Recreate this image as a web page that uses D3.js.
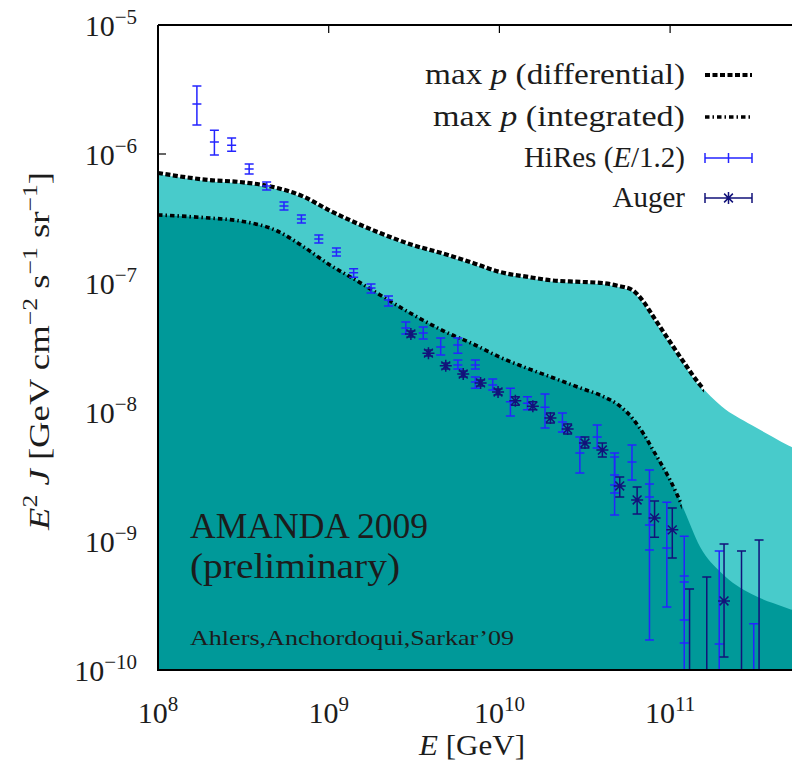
<!DOCTYPE html>
<html>
<head>
<meta charset="utf-8">
<script src="https://cdn.jsdelivr.net/npm/d3@7/dist/d3.min.js"></script>
<style>
  body { margin: 0; background: #fff; }
  svg { display: block; }
</style>
</head>
<body>
<script>
// axis ticks
const xTicks = [1e8, 1e9, 1e10, 1e11];
const xTickExp = ["8", "9", "10", "11"];
const yTicks = [1e-5, 1e-6, 1e-7, 1e-8, 1e-9, 1e-10];
const yTickExp = ["\u22125", "\u22126", "\u22127", "\u22128", "\u22129", "\u221210"];

// max p bounds (GeV, GeV cm^-2 s^-1 sr^-1)
const modelE = [1e8, 2e8, 3e8, 5e8, 7e8, 1e9, 1.5e9, 2e9, 3e9, 5e9, 7e9, 1e10, 1.5e10, 2e10,
  3e10, 4e10, 5e10, 6e10, 7e10, 8e10, 1e11, 1.2e11, 1.5e11, 2e11, 3e11, 4e11, 5e11, 6e11];
const maxpDiff = [7.13e-7, 6.28e-7, 6.07e-7, 5.45e-7, 4.72e-7, 3.68e-7, 2.86e-7, 2.44e-7, 2.00e-7,
  1.65e-7, 1.43e-7, 1.22e-7, 1.11e-7, 1.05e-7, 1.02e-7, 1.00e-7, 9.48e-8, 8.83e-8, 7.13e-8,
  5.45e-8, 3.49e-8, 2.44e-8, 1.62e-8, 1.11e-8, 7.93e-9, 6.40e-9, 5.45e-9, 4.90e-9];
const maxpInt = [3.37e-7, 3.19e-7, 3.03e-7, 2.53e-7, 1.94e-7, 1.40e-7, 1.02e-7, 8.07e-8, 5.85e-8,
  4.09e-8, 3.37e-8, 2.67e-8, 2.15e-8, 1.87e-8, 1.53e-8, 1.33e-8, 1.13e-8, 8.98e-9, 6.75e-9,
  4.99e-9, 2.97e-9, 1.77e-9, 8.98e-10, 5.65e-10, 3.88e-10, 3.30e-10, 2.97e-10, 2.77e-10];
const diffLineEnd = 1.58e11;
const intLineEnd = 1.17e11;

// HiRes (E/1.2)
const hiresE = [1.69e8, 2.14e8, 2.70e8, 3.42e8, 4.33e8, 5.47e8, 6.92e8, 8.75e8, 1.11e9, 1.40e9,
  1.77e9, 2.24e9, 2.83e9, 3.58e9, 4.53e9, 5.71e9, 5.71e9, 7.23e9, 7.23e9, 9.14e9, 1.16e10,
  1.46e10, 1.85e10, 2.34e10, 2.96e10, 3.74e10, 4.73e10, 4.73e10, 5.98e10, 7.57e10, 7.57e10,
  9.57e10, 1.21e11, 1.21e11, 1.94e11, 3.09e11];
const hiresJ = [2.44e-6, 1.24e-6, 1.17e-6, 7.65e-7, 5.65e-7, 3.95e-7, 3.13e-7, 2.19e-7, 1.74e-7, 1.20e-7,
  9.14e-8, 7.38e-8, 4.48e-8, 4.09e-8, 3.19e-8, 3.30e-8, 2.31e-8, 2.31e-8, 1.71e-8, 1.62e-8, 1.20e-8,
  1.17e-8, 1.09e-8, 8.35e-9, 4.81e-9, 6.40e-9, 3.25e-9, 2.72e-9, 4.09e-9, 2.19e-9, 8.51e-10,
  8.83e-10, 5.36e-10, 1.62e-10, 1.59e-10, 5e-11];
const hiresHi = [3.37e-6, 1.53e-6, 1.33e-6, 8.35e-7, 6.07e-7, 4.25e-7, 3.37e-7, 2.36e-7, 1.87e-7, 1.29e-7,
  9.82e-8, 7.93e-8, 4.99e-8, 4.56e-8, 3.75e-8, 3.75e-8, 2.53e-8, 2.53e-8, 1.87e-8, 1.80e-8, 1.53e-8,
  1.31e-8, 1.38e-8, 9.82e-9, 6.40e-9, 7.93e-9, 4.81e-9, 4.48e-9, 5.55e-9, 3.55e-9, 2.77e-9,
  2.00e-9, 1.09e-9, 4.81e-10, 8.35e-10, 2.28e-10];
const hiresLo = [1.68e-6, 9.82e-7, 1.05e-6, 7.00e-7, 5.26e-7, 3.68e-7, 2.92e-7, 2.04e-7, 1.62e-7, 1.11e-7,
  8.36e-8, 6.64e-8, 4.03e-8, 3.68e-8, 2.77e-8, 2.86e-8, 2.15e-8, 2.15e-8, 1.53e-8, 1.48e-8, 9.31e-9,
  1.04e-8, 7.52e-9, 7.00e-9, 3.37e-9, 5.26e-9, 2.36e-9, 1.59e-9, 2.97e-9, 1.33e-9, 1.71e-10,
  3.08e-10, 2.44e-10, 1e-12, 1e-12, 1e-12];

// Auger
const augerE = [3.03e9, 3.84e9, 4.85e9, 6.14e9, 7.76e9, 9.82e9, 1.24e10, 1.57e10, 1.99e10, 2.51e10,
  3.17e10, 4.01e10, 5.07e10, 6.41e10, 8.11e10, 1.03e11, 1.30e11, 1.64e11, 2.07e11, 2.62e11, 3.32e11];
const augerJ = [4.03e-8, 2.86e-8, 2.28e-8, 1.97e-8, 1.68e-8, 1.43e-8, 1.22e-8, 1.11e-8, 8.98e-9, 7.38e-9,
  5.75e-9, 5.07e-9, 2.67e-9, 2.08e-9, 1.51e-9, 1.22e-9, 3e-11, 3e-11, 3.43e-10, 3e-11, 3e-11];
const augerHi = [4.25e-8, 3.03e-8, 2.40e-8, 2.08e-8, 1.77e-8, 1.51e-8, 1.31e-8, 1.20e-8, 9.82e-9, 8.07e-9,
  6.40e-9, 5.75e-9, 3.13e-9, 2.62e-9, 2.04e-9, 1.80e-9, 4.25e-10, 5.26e-10, 9.48e-10, 8.35e-10, 1.02e-9];
const augerLo = [3.81e-8, 2.72e-8, 2.15e-8, 1.87e-8, 1.59e-8, 1.36e-8, 1.13e-8, 1.04e-8, 8.22e-9, 6.75e-9,
  5.26e-9, 4.48e-9, 2.19e-9, 1.62e-9, 1.07e-9, 7.38e-10, 1e-12, 1e-12, 1.26e-10, 1e-12, 1e-12];

const width = 792, height = 768;
const padLeft = 158, padTop = 25, padBottom = 670;

const x = d3.scaleLog().domain([1e8, 1e12]).range([padLeft, padLeft + 4 * 170.7]);
const y = d3.scaleLog().domain([1e-10, 1e-5]).range([padBottom, padTop]);

const light = "#48cbcb", dark = "#009999";
const blue = "#2424ff", navy = "#12127a";
const ink = "#1c1c1c";
const serif = "'Liberation Serif', 'DejaVu Serif', serif";

const svg = d3.select("body").append("svg")
  .attr("width", width)
  .attr("height", height)
  .attr("font-family", serif);

const defs = svg.append("defs");
defs.append("clipPath").attr("id", "plot")
  .append("rect").attr("x", padLeft).attr("y", padTop).attr("width", width - padLeft).attr("height", padBottom - padTop);
defs.append("clipPath").attr("id", "diffEnd")
  .append("rect").attr("x", padLeft).attr("y", padTop).attr("width", x(diffLineEnd) - padLeft).attr("height", padBottom - padTop);
defs.append("clipPath").attr("id", "intEnd")
  .append("rect").attr("x", padLeft).attr("y", padTop).attr("width", x(intLineEnd) - padLeft).attr("height", padBottom - padTop);

// text with superscripts / italics
function rich(sel, parts, size) {
  let shift = 0;
  parts.forEach(p => {
    const target = p.sup ? -0.4 * size : 0;
    const ts = sel.append("tspan").text(p.t);
    if (target !== shift) ts.attr("dy", target - shift);
    shift = target;
    if (p.sup) ts.attr("font-size", size * 0.7);
    if (p.it) ts.attr("font-style", "italic");
  });
  return sel;
}

// ticks (drawn under the filled bands, like the original)
const tickG = svg.append("g").attr("stroke", "#000").attr("stroke-width", 1.2);
tickG.selectAll(".xt").data(xTicks).join("path")
  .attr("d", d => `M${x(d)},${padTop}v8M${x(d)},${padBottom}v-8`);
tickG.selectAll(".yt").data(yTicks).join("path")
  .attr("d", d => `M${padLeft},${y(d)}h8`);

const models = modelE.map((e, i) => ({ e, diff: maxpDiff[i], int: maxpInt[i] }));

const plot = svg.append("g").attr("clip-path", "url(#plot)");

plot.append("path").datum(models)
  .attr("fill", light)
  .attr("d", d3.area().x(d => x(d.e)).y0(padBottom).y1(d => y(d.diff)).curve(d3.curveMonotoneX));
plot.append("path").datum(models)
  .attr("fill", dark)
  .attr("d", d3.area().x(d => x(d.e)).y0(padBottom).y1(d => y(d.int)).curve(d3.curveMonotoneX));

const diffLine = d3.line().x(d => x(d.e)).y(d => y(d.diff)).curve(d3.curveMonotoneX);
const intLine = d3.line().x(d => x(d.e)).y(d => y(d.int)).curve(d3.curveMonotoneX);

const gd = plot.append("g").attr("clip-path", "url(#diffEnd)");
gd.append("path").datum(models).attr("d", diffLine)
  .attr("fill", "none").attr("stroke", "#fff").attr("stroke-width", 2.5);
gd.append("path").datum(models).attr("d", diffLine)
  .attr("fill", "none").attr("stroke", "#000").attr("stroke-width", 4.2)
  .attr("stroke-dasharray", "5,2.5");

plot.append("g").attr("clip-path", "url(#intEnd)")
  .append("path").datum(models).attr("d", intLine)
  .attr("fill", "none").attr("stroke", "#000").attr("stroke-width", 3.6)
  .attr("stroke-dasharray", "4.5,3,1.5,3");

// error bars
function errorBars(g, E, J, hi, lo, color, marker) {
  const pts = E.map((e, i) => ({ e, j: J[i], hi: hi[i], lo: lo[i] }));
  const grp = g.append("g").attr("stroke", color).attr("stroke-width", 1.5).attr("fill", "none");
  grp.selectAll("path").data(pts).join("path")
    .attr("d", d => {
      const px = x(d.e), yh = y(d.hi), yl = y(d.lo), py = y(d.j);
      let p = `M${px},${yh}V${yl}M${px - 4.5},${yh}h9M${px - 4.5},${yl}h9`;
      if (marker === "plus") p += `M${px - 4.5},${py}h9M${px},${py - 4.5}v9`;
      else p += `M${px - 6},${py}h12M${px},${py - 6}v12M${px - 4.4},${py - 4.4}l8.8,8.8M${px - 4.4},${py + 4.4}l8.8,-8.8`;
      return p;
    });
}
errorBars(plot, hiresE, hiresJ, hiresHi, hiresLo, blue, "plus");
errorBars(plot, augerE, augerJ, augerHi, augerLo, navy, "star");

// frame
svg.append("path")
  .attr("d", `M${padLeft},${padTop}V${padBottom}H${width}M${padLeft},${padTop}H${width}`)
  .attr("fill", "none").attr("stroke", "#000").attr("stroke-width", 2);

// tick labels
const fs = 30;
svg.append("g").selectAll("text").data(xTicks).join("text")
  .attr("x", d => x(d)).attr("y", 723)
  .attr("text-anchor", "middle").attr("font-size", fs).attr("fill", ink)
  .each(function (d, i) { rich(d3.select(this), [{ t: "10" }, { t: xTickExp[i], sup: true }], fs); });

svg.append("g").selectAll("text").data(yTicks).join("text")
  .attr("x", 137).attr("y", d => y(d) + 10.5)
  .attr("text-anchor", "end").attr("font-size", fs).attr("fill", ink)
  .each(function (d, i) { rich(d3.select(this), [{ t: "10" }, { t: yTickExp[i], sup: true }], fs); });

// axis titles
rich(svg.append("text")
  .attr("x", 472).attr("y", 755).attr("text-anchor", "middle")
  .attr("font-size", fs).attr("fill", ink)
  .attr("textLength", 106).attr("lengthAdjust", "spacingAndGlyphs"),
  [{ t: "E", it: true }, { t: " [GeV]" }], fs);

rich(svg.append("text")
  .attr("transform", "translate(49,351) rotate(-90)")
  .attr("text-anchor", "middle").attr("font-size", fs).attr("fill", ink)
  .attr("textLength", 358).attr("lengthAdjust", "spacingAndGlyphs"),
  [{ t: "E", it: true }, { t: "2", sup: true }, { t: " " }, { t: "J", it: true },
   { t: " [GeV cm" }, { t: "\u22122", sup: true }, { t: " s" }, { t: "\u22121", sup: true },
   { t: " sr" }, { t: "\u22121", sup: true }, { t: "]" }], fs);

// legend
const legendRows = [
  { parts: [{ t: "max " }, { t: "p", it: true }, { t: " (differential)" }], kind: "diff", w: 260 },
  { parts: [{ t: "max " }, { t: "p", it: true }, { t: " (integrated)" }], kind: "int", w: 252 },
  { parts: [{ t: "HiRes (" }, { t: "E", it: true }, { t: "/1.2)" }], kind: "hires", w: 0 },
  { parts: [{ t: "Auger" }], kind: "auger", w: 0 }
];
const rowY = [75, 117, 158, 198];
const legend = svg.append("g");
legendRows.forEach((r, i) => {
  const ly = rowY[i];
  const t = legend.append("text").attr("x", 685).attr("y", ly + 9)
    .attr("text-anchor", "end").attr("font-size", 29).attr("fill", ink);
  if (r.w) t.attr("textLength", r.w).attr("lengthAdjust", "spacingAndGlyphs");
  rich(t, r.parts, 29);
  if (r.kind === "diff") {
    legend.append("path").attr("d", `M705,${ly}H752`).attr("stroke", "#000")
      .attr("stroke-width", 4.2).attr("stroke-dasharray", "5,2.5");
  } else if (r.kind === "int") {
    legend.append("path").attr("d", `M705,${ly}H752`).attr("stroke", "#000")
      .attr("stroke-width", 3.6).attr("stroke-dasharray", "4.5,3,1.5,3");
  } else {
    const c = r.kind === "hires" ? blue : navy;
    let d = `M705,${ly}H752M705,${ly - 5}v10M752,${ly - 5}v10`;
    if (r.kind === "hires") d += `M728.5,${ly - 5}v10`;
    else d += `M728.5,${ly - 6}v12M724.1,${ly - 4.4}l8.8,8.8M724.1,${ly + 4.4}l8.8,-8.8`;
    legend.append("path").attr("d", d).attr("stroke", c).attr("stroke-width", 1.5).attr("fill", "none");
  }
});

// annotations
svg.append("text").attr("x", 190).attr("y", 538).attr("font-size", 36).attr("fill", ink)
  .attr("textLength", 238).attr("lengthAdjust", "spacingAndGlyphs").text("AMANDA 2009");
svg.append("text").attr("x", 190).attr("y", 578).attr("font-size", 36).attr("fill", ink)
  .attr("textLength", 210).attr("lengthAdjust", "spacingAndGlyphs").text("(preliminary)");
svg.append("text").attr("x", 190).attr("y", 645).attr("font-size", 21).attr("fill", ink)
  .attr("textLength", 324).attr("lengthAdjust", "spacingAndGlyphs").text("Ahlers,Anchordoqui,Sarkar\u201909");
</script>
</body>
</html>
